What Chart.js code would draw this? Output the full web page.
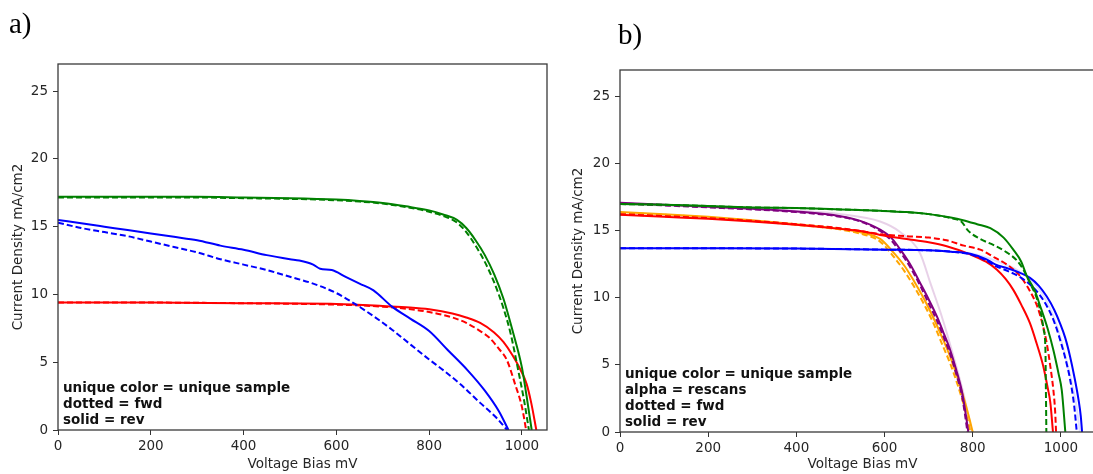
<!DOCTYPE html>
<html lang="en">
<head>
<meta charset="UTF-8">
<title>J-V curves</title>
<script src="https://cdn.jsdelivr.net/npm/chart.js"></script>
<style>
  html, body { margin: 0; padding: 0; background: #fff; overflow: hidden; width: 1093px; height: 474px; }
  .panel { position: absolute; top: 0; height: 474px; width: 560px; }
  #panelA { left: 0; }
  #panelB { left: 560px; }
</style>
</head>
<body>
<div class="panel" id="panelA"><canvas id="chartA"></canvas></div>
<div class="panel" id="panelB"><canvas id="chartB"></canvas></div>

<script>
// ---- panel a) : voltage (mV) / current density (mA/cm2) ----
const aGreenRevV = [0,100,200,300,400,500,600,650,700,750,800,830,860,880,900,920,940,960,980,1000,1010,1021];
const aGreenRevJ = [17.2,17.2,17.2,17.2,17.15,17.1,17.0,16.9,16.75,16.5,16.2,15.9,15.5,14.9,14.0,12.9,11.5,9.7,7.3,4.6,2.5,0];
const aGreenFwdV = [0,100,200,300,400,500,600,650,700,750,800,830,860,880,900,920,940,960,975,992,1005,1015];
const aGreenFwdJ = [17.15,17.15,17.15,17.15,17.1,17.05,16.95,16.85,16.7,16.45,16.1,15.8,15.3,14.6,13.6,12.4,10.9,9.0,7.2,4.4,2.1,0];
const aRedRevV = [0,200,400,600,700,750,800,850,880,910,940,960,980,996,1010,1020,1031];
const aRedRevJ = [9.4,9.4,9.35,9.3,9.15,9.05,8.9,8.6,8.3,7.9,7.2,6.5,5.5,4.5,3.4,2.0,0];
const aRedFwdV = [0,200,400,600,700,750,800,850,880,910,930,950,967,985,1000,1009];
const aRedFwdJ = [9.4,9.4,9.35,9.25,9.1,8.95,8.7,8.3,7.9,7.3,6.8,6.0,5.2,3.4,1.7,0];
const aBlueRevV = [0,50,100,150,200,250,300,350,400,450,500,520,550,565,590,620,650,680,720,760,800,840,883,920,950,971];
const aBlueRevJ = [15.5,15.25,15.0,14.75,14.5,14.25,14.0,13.6,13.3,12.9,12.6,12.5,12.2,11.9,11.8,11.3,10.8,10.3,9.1,8.2,7.3,5.9,4.4,2.9,1.4,0];
const aBlueFwdV = [0,50,100,150,200,250,300,350,400,450,500,550,600,640,680,720,760,800,831,870,910,945,968];
const aBlueFwdJ = [15.3,14.9,14.6,14.3,13.9,13.5,13.1,12.6,12.2,11.8,11.3,10.8,10.1,9.3,8.4,7.4,6.3,5.2,4.4,3.3,2.0,0.9,0];

// ---- panel b) ----
const bGreenRevV = [0,100,200,300,400,500,590,650,700,750,778,810,840,870,892,910,923,940,953,970,983,995,1002,1010];
const bGreenRevJ = [17.0,16.95,16.85,16.75,16.7,16.6,16.5,16.4,16.25,16.0,15.8,15.5,15.2,14.5,13.6,12.7,11.6,10.6,9.4,7.7,6.1,4.3,3.1,0];
const bGreenFwdV = [0,100,200,300,400,500,590,650,700,750,774,790,817,850,877,900,915,930,946,955,961,965,966,967];
const bGreenFwdJ = [17.0,16.95,16.85,16.75,16.7,16.6,16.5,16.4,16.25,15.95,15.7,15.0,14.4,13.9,13.4,12.8,12.1,11.1,9.9,8.8,7.6,6.0,3.0,0];
const bRedRevV = [0,100,200,300,400,500,545,590,650,700,741,794,830,855,875,892,910,930,945,960,970,976,982];
const bRedRevJ = [16.2,16.05,15.9,15.7,15.45,15.15,15.0,14.7,14.4,14.15,13.85,13.25,12.7,12.1,11.4,10.6,9.5,8.1,6.6,4.9,3.3,2.2,0];
const bRedFwdV = [0,100,200,300,400,500,545,590,650,700,741,780,817,850,877,900,915,930,946,958,968,976,983,987,989];
const bRedFwdJ = [16.25,16.1,15.95,15.75,15.5,15.2,15.0,14.75,14.6,14.5,14.3,13.9,13.6,13.0,12.5,11.9,11.3,10.5,9.4,8.1,6.6,4.9,3.1,1.5,0];
const bBlueRevV = [0,200,400,600,700,750,794,830,851,880,905,930,950,968,985,998,1010,1021,1030,1040,1045,1048];
const bBlueRevJ = [13.7,13.7,13.68,13.6,13.55,13.45,13.3,12.9,12.5,12.2,11.9,11.5,10.9,10.1,9.1,8.1,7.0,5.6,4.2,2.4,1.2,0];
const bBlueFwdV = [0,200,400,600,700,750,794,830,851,880,905,930,950,968,985,998,1010,1021,1030,1036];
const bBlueFwdJ = [13.7,13.7,13.68,13.6,13.55,13.45,13.25,12.8,12.4,12.0,11.6,11.0,10.3,9.4,8.2,6.9,5.5,3.9,2.0,0];
const bPurpleRevV = [0,100,200,300,400,500,545,590,615,636,660,681,700,719,735,749,762,775,783,790];
const bPurpleRevJ = [17.1,16.95,16.8,16.65,16.45,16.1,15.75,15.1,14.5,13.6,12.4,11.1,9.9,8.6,7.3,6.1,4.7,3.1,1.6,0];
const bPurpleFwdV = [0,100,200,300,400,500,545,590,615,636,660,681,700,719,735,749,762,775,782,788];
const bPurpleFwdJ = [17.05,16.9,16.75,16.6,16.4,16.05,15.7,15.0,14.3,13.4,12.2,10.9,9.6,8.3,7.0,5.8,4.4,2.8,1.4,0];
const bPurpleRescanV = [0,200,400,500,590,636,681,704,730,755,778,798];
const bPurpleRescanJ = [17.0,16.8,16.5,16.25,15.7,14.9,13.3,11.1,8.6,5.8,3.0,0];
const bOrangeRevV = [0,100,200,300,400,500,545,590,620,645,666,690,711,730,749,765,779,790,800];
const bOrangeRevJ = [16.4,16.25,16.05,15.8,15.5,15.15,14.9,14.4,13.4,12.4,11.3,9.9,8.5,7.1,5.6,4.1,2.6,1.3,0];
const bOrangeFwdV = [0,100,200,300,400,500,545,590,620,645,666,690,711,730,749,765,779,795];
const bOrangeFwdJ = [16.35,16.2,16.0,15.75,15.45,15.1,14.8,14.2,13.1,12.0,10.9,9.5,8.1,6.6,5.1,3.6,2.1,0];
const bBlueRescanV = [0,400,700,800,850,900,930,960,990,1015,1035,1043];
const bBlueRescanJ = [13.7,13.68,13.55,13.3,12.8,12.1,11.4,10.2,8.0,5.0,2.0,0];

const ticksX = [0, 200, 400, 600, 800, 1000];
const ticksY = [0, 5, 10, 15, 20, 25];
const notesA = ['unique color = unique sample', 'dotted = fwd', 'solid = rev'];
const notesB = ['unique color = unique sample', 'alpha = rescans', 'dotted = fwd', 'solid = rev'];

const FONT = 'DejaVu Sans';
const TXT = '#262626';

function curve(v, j, color, dashed) {
  return {
    data: v.map((x, i) => ({ x: x, y: j[i] })),
    borderColor: color,
    borderWidth: 2,
    borderDash: dashed ? [6, 3] : [],
    pointRadius: 0,
    showLine: true,
    fill: false,
    cubicInterpolationMode: 'monotone'
  };
}

// frame, notes and panel letter
const decor = {
  id: 'decor',
  afterDatasetsDraw(chart, args, opts) {
    const ctx = chart.ctx, a = chart.chartArea;
    ctx.save();
    ctx.strokeStyle = '#3a3a3a';
    ctx.lineWidth = 1.3;
    ctx.strokeRect(a.left, a.top, a.right - a.left, a.bottom - a.top);
    ctx.fillStyle = '#111';
    ctx.font = 'bold 13.5px "' + FONT + '"';
    ctx.textBaseline = 'middle';
    ctx.textAlign = 'left';
    const n = opts.notes.length;
    opts.notes.forEach((t, i) => {
      ctx.fillText(t, a.left + 5, a.bottom - 9.5 - 16 * (n - 1 - i));
    });
    ctx.font = '29px "Liberation Serif"';
    ctx.textBaseline = 'alphabetic';
    ctx.fillStyle = '#000';
    ctx.fillText(opts.letter, opts.lx, opts.ly);
    ctx.restore();
  }
};

function makeChart(id, datasets, cfg) {
  return new Chart(document.getElementById(id), {
    type: 'scatter',
    data: { datasets: datasets },
    plugins: [decor],
    options: {
      responsive: true,
      maintainAspectRatio: false,
      animation: false,
      layout: { padding: { top: cfg.top, right: cfg.right, left: 0, bottom: 0 } },
      plugins: {
        legend: { display: false },
        tooltip: { enabled: false },
        decor: { notes: cfg.notes, letter: cfg.letter, lx: cfg.lx, ly: cfg.ly }
      },
      scales: {
        x: {
          type: 'linear', min: 0, max: cfg.xmax,
          afterFit: s => { s.height = cfg.xh; },
          afterBuildTicks: s => { s.ticks = ticksX.map(v => ({ value: v })); },
          ticks: { color: TXT, font: { family: FONT, size: 13.5 }, padding: 3,
                   callback: v => String(v) },
          grid: { drawOnChartArea: false, tickLength: 5, tickColor: '#333' },
          border: { display: false },
          title: { display: true, text: 'Voltage Bias mV', color: TXT,
                   font: { family: FONT, size: 13.5 }, padding: { top: 0, bottom: 1 } }
        },
        y: {
          type: 'linear', min: 0, max: 27,
          afterFit: s => { s.width = cfg.yw; },
          afterBuildTicks: s => { s.ticks = ticksY.map(v => ({ value: v })); },
          ticks: { color: TXT, font: { family: FONT, size: 13.5 }, padding: 5,
                   callback: v => String(v) },
          grid: { drawOnChartArea: false, tickLength: 5, tickColor: '#333' },
          border: { display: false },
          title: { display: true, text: 'Current Density mA/cm2', color: TXT,
                   font: { family: FONT, size: 13.5 }, padding: { top: 10.5, bottom: 0 } }
        }
      }
    }
  });
}

makeChart('chartA', [
  curve(aGreenRevV, aGreenRevJ, '#008000', false),
  curve(aGreenFwdV, aGreenFwdJ, '#008000', true),
  curve(aBlueRevV, aBlueRevJ, '#0000ff', false),
  curve(aBlueFwdV, aBlueFwdJ, '#0000ff', true),
  curve(aRedRevV, aRedRevJ, '#ff0000', false),
  curve(aRedFwdV, aRedFwdJ, '#ff0000', true)
], { top: 64, right: 13, xh: 44, yw: 58, xmax: 1054, notes: notesA, letter: 'a)', lx: 9, ly: 33 });

makeChart('chartB', [
  curve(bGreenRevV, bGreenRevJ, '#008000', false),
  curve(bGreenFwdV, bGreenFwdJ, '#008000', true),
  curve(bBlueRevV, bBlueRevJ, '#0000ff', false),
  curve(bBlueFwdV, bBlueFwdJ, '#0000ff', true),
  curve(bRedRevV, bRedRevJ, '#ff0000', false),
  curve(bRedFwdV, bRedFwdJ, '#ff0000', true),
  curve(bPurpleRevV, bPurpleRevJ, '#800080', false),
  curve(bPurpleFwdV, bPurpleFwdJ, '#800080', true),
  curve(bOrangeRevV, bOrangeRevJ, '#ffa500', false),
  curve(bOrangeFwdV, bOrangeFwdJ, '#ffa500', true),
  curve(bPurpleRescanV, bPurpleRescanJ, 'rgba(128,0,128,0.18)', false),
  curve(bBlueRescanV, bBlueRescanJ, 'rgba(0,0,255,0.12)', false)
], { top: 70, right: 15, xh: 42, yw: 60, xmax: 1100, notes: notesB, letter: 'b)', lx: 58, ly: 44 });
</script>
</body>
</html>
